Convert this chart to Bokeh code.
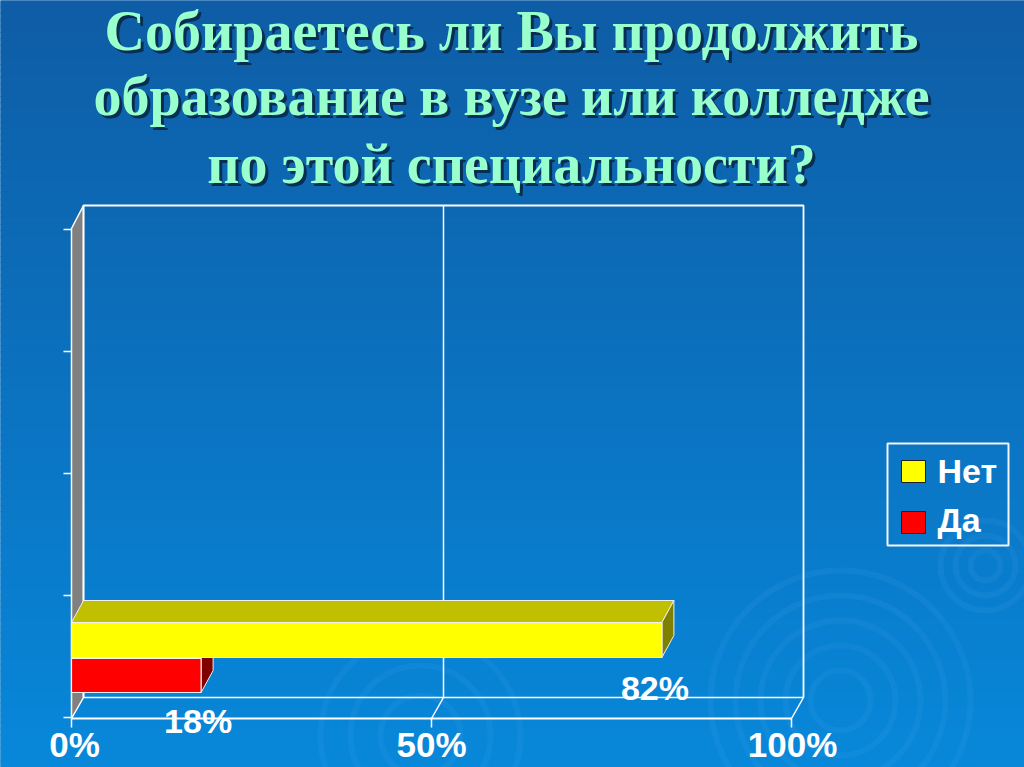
from bokeh.plotting import figure
from bokeh.models import Range1d
from bokeh.core.properties import value
from bokeh.embed import file_html
from bokeh.resources import INLINE

# ---------------- data ----------------
title_lines = ["Собираетесь ли Вы продолжить",
               "образование в вузе или колледже",
               "по этой специальности?"]
series = ["Нет", "Да"]
values = [82, 18]
value_labels = ["82%", "18%"]
front_colors = ["#FFFF00", "#FF0000"]
top_colors = ["#C0C000", "#C00000"]
side_colors = ["#808000", "#800000"]
x_ticks = [0, 50, 100]
x_tick_labels = ["0%", "50%", "100%"]

# ---------------- layout helpers ----------------
W, H = 1024, 767
PXP = 7.2          # pixels per percent
X0 = 71            # page x of 0 %
def px2x(px):
    return (px - X0) / PXP

def base(y, size):
    # compensate the renderer's baseline placement for svg text
    return y - 0.37 * size

D = 12 / PXP       # 3d depth in x (percent units)
DY = 22            # 3d depth in y (pixels)

p = figure(width=W, height=H, output_backend="svg", toolbar_location=None,
           x_range=Range1d(px2x(0), px2x(W)), y_range=Range1d(H, 0),
           x_axis_type=None, y_axis_type=None, min_border=0,
           min_border_left=0, min_border_right=0, min_border_top=0, min_border_bottom=0,
           background_fill_color="#0A70BC", border_fill_color="#0A70BC")
p.outline_line_color = None
p.grid.visible = False

# ---------------- background gradient ----------------
N = 120
top_rgb = (15, 93, 166)
bot_rgb = (8, 136, 218)
g_left, g_right, g_top, g_bot, g_col = [], [], [], [], []
for i in range(N):
    t = i / (N - 1)
    r = int(top_rgb[0] + (bot_rgb[0] - top_rgb[0]) * t)
    g = int(top_rgb[1] + (bot_rgb[1] - top_rgb[1]) * t)
    b = int(top_rgb[2] + (bot_rgb[2] - top_rgb[2]) * t)
    g_left.append(px2x(-5)); g_right.append(px2x(1030))
    g_top.append(i * H / N - 0.5); g_bot.append((i + 1) * H / N + 0.5)
    g_col.append("#%02x%02x%02x" % (r, g, b))
p.quad(left=g_left, right=g_right, top=g_top, bottom=g_bot, fill_color=g_col, line_color=None)

# decorative ripples
rip_x = [px2x(840)] * 5 + [px2x(985)] * 3 + [px2x(420)] * 3
rip_y = [700] * 5 + [565] * 3 + [735] * 3
rip_r = [30, 55, 80, 105, 130, 15, 30, 45, 40, 70, 100]
p.circle(x=rip_x, y=rip_y, radius=rip_r, radius_units="screen", fill_color=None,
         line_color="#6EC3FF", line_alpha=0.08, line_width=6)

WHITE = "#FFFFFF"

# ---------------- walls ----------------
p.patch(x=[0, D, D, 0], y=[228, 205, 697, 718], fill_color="#808080",
        line_color=WHITE, line_width=1.5)
p.line(x=[D, D, 100 + D, 100 + D], y=[697, 205, 205, 697], line_color=WHITE, line_width=1.8)
p.line(x=[50 + D, 50 + D, 50], y=[205, 697, 718], line_color=WHITE, line_width=1.5)
p.line(x=[D, 100 + D, 100], y=[697, 697, 718], line_color=WHITE, line_width=1.5)
p.line(x=[0, 100], y=[718, 718], line_color=WHITE, line_width=1.8)
p.segment(x0=x_ticks, y0=[718] * 3, x1=x_ticks, y1=[727] * 3, line_color=WHITE, line_width=1.5)
cat_ticks = [229, 351, 473, 595, 717]
p.segment(x0=[px2x(63)] * 5, y0=cat_ticks, x1=[0] * 5, y1=cat_ticks, line_color=WHITE, line_width=1.5)

# ---------------- bars ----------------
bar_top = [622, 658]
bar_bot = [657, 692]
for i in [1, 0]:
    v = values[i]
    t, b = bar_top[i], bar_bot[i]
    p.patch(x=[0, D, v + D, v], y=[t, t - DY, t - DY, t], fill_color=top_colors[i],
            line_color="#F0F0F0", line_width=1)
    p.patch(x=[v, v + D, v + D, v], y=[t, t - DY, b - DY, b], fill_color=side_colors[i],
            line_color="#F0F0F0", line_width=1)
    p.quad(left=[0], right=[v], top=[t], bottom=[b], fill_color=front_colors[i],
           line_color="#F0F0F0", line_width=1.2)

# value labels
lab_off = [-7, -3]
lab_y = [base(700, 34), base(733, 34)]
p.text(x=values, y=lab_y, text=value_labels, x_offset=lab_off,
       text_font=value("Liberation Sans"), text_font_style="bold", text_font_size="34px",
       text_color=WHITE, text_align="center", text_baseline="alphabetic")

# x tick labels (kept fully inside the page)
p.text(x=x_ticks, y=[base(757, 35)] * 3, text=x_tick_labels, x_offset=[3, 0, 1],
       text_font=value("Liberation Sans"), text_font_style="bold", text_font_size="35px",
       text_color=WHITE, text_align="center", text_baseline="alphabetic")

# ---------------- legend ----------------
p.quad(left=[px2x(887)], right=[px2x(1008)], top=[443], bottom=[545], fill_color=None,
       line_color="#F4F4F4", line_width=2)
leg_y_top = [460, 511]
p.quad(left=[px2x(901)] * 2, right=[px2x(925)] * 2, top=leg_y_top,
       bottom=[y + 22 for y in leg_y_top], fill_color=front_colors, line_color="#202020", line_width=1)
p.text(x=[px2x(937)] * 2, y=[base(483, 34), base(532, 34)], text=series,
       text_font=value("Liberation Sans"), text_font_style="bold", text_font_size="34px",
       text_color=WHITE, text_align="left", text_baseline="alphabetic")

# ---------------- title ----------------
tx = [px2x(511)] * 3
ty = [base(51, 56), base(116, 56), base(184, 56)]
p.text(x=tx, y=ty, text=title_lines, x_offset=3, y_offset=3,
       text_font=value("Liberation Serif"), text_font_style="bold", text_font_size="56px",
       text_color="#08203A", text_alpha=0.8, text_align="center", text_baseline="alphabetic")
p.text(x=tx, y=ty, text=title_lines,
       text_font=value("Liberation Serif"), text_font_style="bold", text_font_size="56px",
       text_color="#99FFCC", text_align="center", text_baseline="alphabetic")

open("out.html", "w").write(file_html(p, INLINE))
